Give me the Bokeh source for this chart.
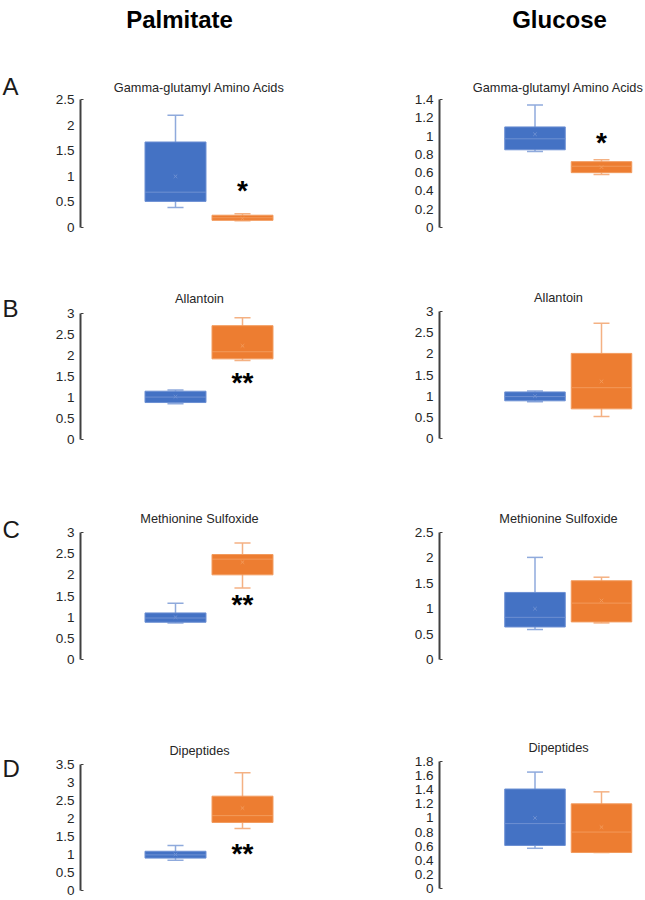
from bokeh.plotting import figure
from bokeh.layouts import column, row
from bokeh.models import Range1d, FixedTicker
from bokeh.embed import file_html
from bokeh.resources import INLINE
from bokeh.core.properties import value

# ---------------- data ----------------
groups = ["Control", "Treatment"]
column_titles = ["Palmitate", "Glucose"]
panel_letters = ["A", "B", "C", "D"]
metabolites = ["Gamma-glutamyl Amino Acids", "Allantoin", "Methionine Sulfoxide", "Dipeptides"]

# box statistics per group: [low whisker, Q1, median, Q3, high whisker, mean]
palmitate_gga = [[0.39, 0.51, 0.69, 1.67, 2.19, 1.00], [0.13, 0.14, 0.19, 0.24, 0.27, 0.18]]
palmitate_allantoin = [[0.85, 0.88, 1.01, 1.15, 1.18, 1.02], [1.88, 1.92, 2.09, 2.71, 2.90, 2.23]]
palmitate_metsulfox = [[0.86, 0.88, 0.98, 1.10, 1.33, 1.00], [1.69, 2.00, 2.37, 2.48, 2.75, 2.30]]
palmitate_dipeptides = [[0.84, 0.90, 0.99, 1.09, 1.25, 1.00], [1.72, 1.89, 2.08, 2.62, 3.27, 2.29]]

glucose_gga = [[0.83, 0.85, 0.97, 1.10, 1.34, 1.02], [0.58, 0.60, 0.67, 0.72, 0.74, 0.66]]
glucose_allantoin = [[0.87, 0.89, 0.99, 1.10, 1.12, 1.00], [0.52, 0.70, 1.20, 2.01, 2.72, 1.35]]
glucose_metsulfox = [[0.59, 0.64, 0.83, 1.32, 2.01, 1.00], [0.72, 0.74, 1.11, 1.55, 1.62, 1.16]]
glucose_dipeptides = [[0.57, 0.61, 0.92, 1.41, 1.65, 1.00], [0.51, 0.51, 0.80, 1.20, 1.37, 0.87]]

palmitate_stats = [palmitate_gga, palmitate_allantoin, palmitate_metsulfox, palmitate_dipeptides]
glucose_stats = [glucose_gga, glucose_allantoin, glucose_metsulfox, glucose_dipeptides]

# significance marks (placed over the treatment group)
palmitate_stars = ["*", "**", "**", "**"]
palmitate_star_y = [0.79, 1.44, 1.36, 1.11]
glucose_stars = ["*", "", "", ""]
glucose_star_y = [0.96, 0.0, 0.0, 0.0]

# y axis ticks
palmitate_ticks = [[0, 0.5, 1, 1.5, 2, 2.5],
                   [0, 0.5, 1, 1.5, 2, 2.5, 3],
                   [0, 0.5, 1, 1.5, 2, 2.5, 3],
                   [0, 0.5, 1, 1.5, 2, 2.5, 3, 3.5]]
palmitate_tick_labels = [["0", "0.5", "1", "1.5", "2", "2.5"],
                         ["0", "0.5", "1", "1.5", "2", "2.5", "3"],
                         ["0", "0.5", "1", "1.5", "2", "2.5", "3"],
                         ["0", "0.5", "1", "1.5", "2", "2.5", "3", "3.5"]]
glucose_ticks = [[0, 0.2, 0.4, 0.6, 0.8, 1, 1.2, 1.4],
                 [0, 0.5, 1, 1.5, 2, 2.5, 3],
                 [0, 0.5, 1, 1.5, 2, 2.5],
                 [0, 0.2, 0.4, 0.6, 0.8, 1, 1.2, 1.4, 1.6, 1.8]]
glucose_tick_labels = [["0", "0.2", "0.4", "0.6", "0.8", "1", "1.2", "1.4"],
                       ["0", "0.5", "1", "1.5", "2", "2.5", "3"],
                       ["0", "0.5", "1", "1.5", "2", "2.5"],
                       ["0", "0.2", "0.4", "0.6", "0.8", "1", "1.2", "1.4", "1.6", "1.8"]]

# ---------------- style / layout (page pixels) ----------------
FONT = "Liberation Sans"
FILL = ["#4472C4", "#ED7D31"]
EDGE = ["#6B8FD3", "#F29B5E"]
WHISK = ["#8FAADC", "#F4B183"]
MED = ["#6E90D2", "#F39A5A"]
AXIS_COLOR = "#404040"
XPOS = [1.0, 2.0]
BOX_W = 0.91
CAP_W = 0.12
HOOK_PX = 3

LETTER_W = 40
ROW_SPANS = [(0, 255), (255, 470), (470, 700), (700, 900)]
# columns: (fig left px, fig right px, axis px, px per x unit, px of first group centre)
COLS = [(40, 320, 80, 67.0, 175.0), (320, 645, 439, 66.5, 534.5)]
# axis (top px, zero px) per column per row
AXIS_PX = [[(99, 227), (313, 439), (532, 659), (764, 890)],
           [(99, 227), (311, 438), (532, 659), (761, 888)]]
TITLE_BASE = [[87, 298, 518, 750], [87, 297, 518, 747]]
TITLE_CX = [199, 558]
HEADER_CX = [179, 559]
HEADER_BASE = 19
LETTER_BASE = [86, 308, 529, 768]


def make_panel(ci, ri, stats, ticks, tlabels, star, star_y):
    r0, r1 = ROW_SPANS[ri]
    f0, f1, axpx, ppx, c0 = COLS[ci]
    top_px, zero_px = AXIS_PX[ci][ri]
    ymax = ticks[-1]
    ppy = (zero_px - top_px) / ymax
    x_start = XPOS[0] - (c0 - axpx) / ppx

    def xd(px):
        return x_start + (px - axpx) / ppx

    def yd(px):
        return (zero_px - px) / ppy

    p = figure(width=f1 - f0, height=r1 - r0, output_backend="svg", toolbar_location=None,
               x_range=Range1d(x_start, xd(f1)), y_range=Range1d(yd(r1), yd(r0)),
               min_border_left=axpx - f0, min_border_right=0, min_border_top=0,
               min_border_bottom=0, x_axis_location=None)
    p.outline_line_color = None
    p.grid.visible = False
    p.background_fill_color = "white"
    p.border_fill_color = "white"

    ax = p.yaxis[0]
    ax.bounds = (0, ymax)
    ax.ticker = FixedTicker(ticks=ticks)
    ax.major_label_overrides = {t: l for t, l in zip(ticks, tlabels)}
    ax.axis_line_color = AXIS_COLOR
    ax.axis_line_width = 2
    ax.major_tick_in = 0
    ax.major_tick_out = 0
    ax.minor_tick_in = 0
    ax.minor_tick_out = 0
    ax.major_label_standoff = 6
    ax.major_label_text_font = FONT
    ax.major_label_text_font_size = "13.5px"
    ax.major_label_text_color = "#262626"

    # small end hooks of the axis line
    p.segment(x0=[x_start, x_start], y0=[0, ymax], x1=[xd(axpx + HOOK_PX)] * 2, y1=[0, ymax],
              line_color=AXIS_COLOR, line_width=1.2)

    for g in range(2):
        lo, q1, med, q3, hi, mean = stats[g]
        x = XPOS[g]
        p.segment(x0=[x], y0=[lo], x1=[x], y1=[hi], line_color=WHISK[g], line_width=1.5)
        p.segment(x0=[x - CAP_W, x - CAP_W], y0=[lo, hi], x1=[x + CAP_W, x + CAP_W], y1=[lo, hi],
                  line_color=WHISK[g], line_width=1.5)
        p.vbar(x=[x], bottom=[q1], top=[q3], width=BOX_W, fill_color=FILL[g],
               line_color=EDGE[g], line_width=1)
        p.segment(x0=[x - BOX_W / 2], y0=[med], x1=[x + BOX_W / 2], y1=[med],
                  line_color=MED[g], line_width=1)
        p.scatter(x=[x], y=[mean], marker="x", size=5, line_color=MED[g], line_width=1)

    if star:
        p.text(x=[XPOS[1]], y=[star_y], text=[star], text_font=value(FONT),
               text_font_style="bold", text_font_size="28px", text_color="black",
               text_align="center", text_baseline="alphabetic", y_offset=3)

    p.text(x=[xd(TITLE_CX[ci])], y=[yd(TITLE_BASE[ci][ri])], text=[metabolites[ri]],
           text_font=value(FONT), text_font_size="12.75px", text_color="#262626",
           text_align="center", text_baseline="alphabetic")
    if ri == 0:
        p.text(x=[xd(HEADER_CX[ci])], y=[yd(HEADER_BASE)], text=[column_titles[ci]],
               text_font=value(FONT), text_font_size="24px", text_font_style="bold",
               text_color="black", text_align="center", text_baseline="alphabetic")
    return p


letters = figure(width=LETTER_W, height=ROW_SPANS[-1][1], output_backend="svg",
                 toolbar_location=None, x_range=Range1d(0, LETTER_W),
                 y_range=Range1d(ROW_SPANS[-1][1], 0), min_border=0,
                 x_axis_location=None, y_axis_location=None)
letters.outline_line_color = None
letters.grid.visible = False
letters.text(x=[2] * 4, y=LETTER_BASE, text=panel_letters, text_font=value(FONT),
             text_font_size="24px", text_color="#1a1a1a", text_align="left",
             text_baseline="alphabetic")

rows = []
for ri in range(4):
    left = make_panel(0, ri, palmitate_stats[ri], palmitate_ticks[ri], palmitate_tick_labels[ri],
                      palmitate_stars[ri], palmitate_star_y[ri])
    right = make_panel(1, ri, glucose_stats[ri], glucose_ticks[ri], glucose_tick_labels[ri],
                       glucose_stars[ri], glucose_star_y[ri])
    rows.append(row(left, right, spacing=0))

layout = row(letters, column(*rows, spacing=0), spacing=0)

open("out.html", "w").write(file_html(layout, INLINE))
